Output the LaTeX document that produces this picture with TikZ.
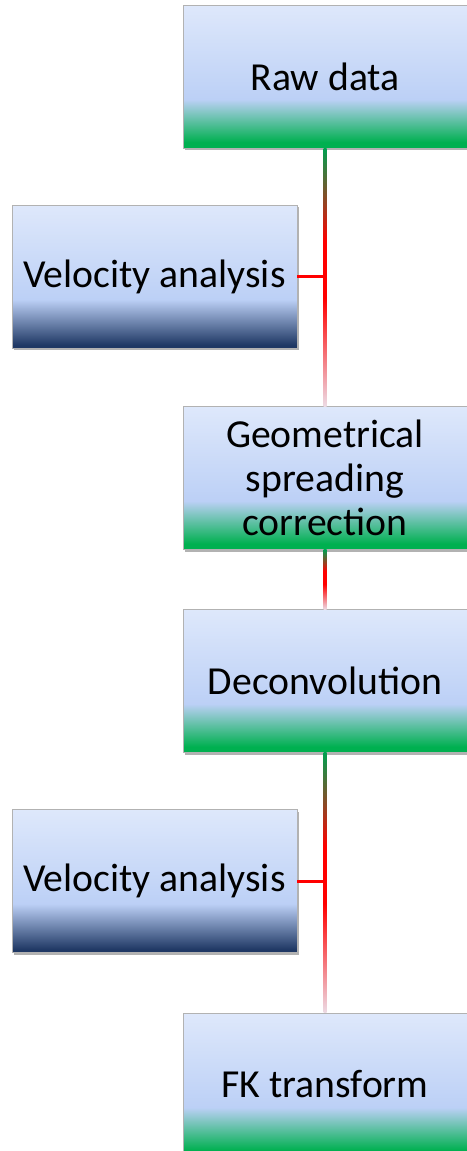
\documentclass[tikz,border=0pt]{standalone}
\usepackage{fontspec}
\setmainfont{Carlito}
\usetikzlibrary{shadows,calc}

\definecolor{boxtop}{RGB}{222,232,251}
\definecolor{boxmid}{RGB}{188,208,246}
\definecolor{boxgreen}{RGB}{0,176,80}
\definecolor{boxnavy}{RGB}{31,56,100}
\definecolor{linkgreen}{RGB}{0,160,80}
\definecolor{linkred}{RGB}{255,0,0}
\definecolor{linkpink}{RGB}{236,218,228}

\pgfdeclareverticalshading{stepgreen}{100bp}{color(0bp)=(boxgreen); color(27bp)=(boxgreen); color(42bp)=(boxmid); color(75bp)=(boxtop); color(100bp)=(boxtop)}
\pgfdeclareverticalshading{stepnavy}{100bp}{color(0bp)=(boxnavy); color(26bp)=(boxnavy); color(42bp)=(boxmid); color(75bp)=(boxtop); color(100bp)=(boxtop)}
\pgfdeclareverticalshading{linkfade}{100bp}{color(0bp)=(linkpink); color(25bp)=(linkpink); color(46bp)=(linkred); color(57bp)=(linkred); color(75bp)=(linkgreen); color(100bp)=(linkgreen)}

\begin{document}
\begin{tikzpicture}[
  x=0.02cm, y=-0.02cm,
  stepbox/.style={rectangle, draw=black!30, line width=0.4pt, shade, shading=stepgreen,
    minimum width=5.68cm, minimum height=2.86cm, inner sep=0pt, align=center,
    font=\fontsize{22.6}{25}\selectfont,
    drop shadow={shadow xshift=1.2pt, shadow yshift=-1.2pt, opacity=0.3, fill=black}},
  sidebox/.style={stepbox, shading=stepnavy, minimum width=5.7cm},
  branch/.style={draw=linkred, line width=1.7pt}
]

  % frame of the picture
  \useasboundingbox (0,0) rectangle (466,1151);

  % ==========================================
  % 1. BOXES
  % ==========================================
  \node[stepbox] (raw)    at (325,76.5)  {Raw data};
  \node[sidebox] (vel1)   at (154.5,276.5) {Velocity analysis};
  \node[stepbox] (geo)    at (325,478)   {Geometrical\\spreading\\correction};
  \node[stepbox] (deconv) at (325,681)   {Deconvolution};
  \node[sidebox] (vel2)   at (154.5,881) {Velocity analysis};
  \node[stepbox] (fk)     at (325,1084.5) {FK transform};

  % ==========================================
  % 2. CONNECTORS
  % ==========================================
  \shade[shading=linkfade] ($(raw.south)+(-1.5,0)$) rectangle ($(geo.north)+(1.5,0)$);
  \shade[shading=linkfade] ($(geo.south)+(-1.5,0)$) rectangle ($(deconv.north)+(1.5,0)$);
  \shade[shading=linkfade] ($(deconv.south)+(-1.5,0)$) rectangle ($(fk.north)+(1.5,0)$);

  \draw[branch] (vel1.east) -- (vel1.east -| raw.south);
  \draw[branch] (vel2.east) -- (vel2.east -| deconv.south);

\end{tikzpicture}
\end{document}
